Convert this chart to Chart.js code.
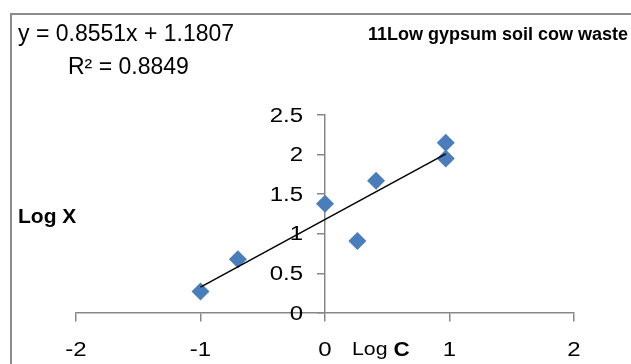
<!DOCTYPE html>
<html>
<head>
<meta charset="utf-8">
<script src="https://cdn.jsdelivr.net/npm/chart.js@4.4.0/dist/chart.umd.min.js"></script>
<style>
  html, body { margin: 0; padding: 0; background: #ffffff; }
  #wrap { width: 631px; height: 364px; position: relative; }
</style>
</head>
<body>
<div id="wrap"><canvas id="logChart" width="631" height="364"></canvas></div>
<script>
// Log C / Log X values
const logC = [-1.0, -0.70, 0.0, 0.26, 0.41, 0.97, 0.97];
const logX = [0.27, 0.68, 1.38, 0.91, 1.67, 2.15, 1.95];

// Linear trendline reported on the chart
const slope = 0.8551;
const intercept = 1.1807;
const rSquared = 0.8849;

const xTicks = [-2, -1, 0, 1, 2];
const yTicks = [0, 0.5, 1, 1.5, 2, 2.5];

const chartTitle = '11Low gypsum soil cow waste';

const colors = {
    marker: '#4a7ebb',
    axis: '#878787',
    text: '#000000',
    frame: '#8c8c8c'
};

const FONT = "'Liberation Sans', Arial, sans-serif";
const TICK_FONT = '20px ' + FONT;
const TICK_STRETCH = 1.2;

// Trendline endpoints at the first and last Log C value
const xMin = Math.min(...logC);
const xMax = Math.max(...logC);
const trendData = [xMin, xMax].map(x => ({ x: x, y: slope * x + intercept }));

const points = logC.map((c, i) => ({ x: c, y: logX[i] }));

// text with a horizontal stretch, anchored at (x, y)
function drawText(ctx, text, x, y, font, align, sx) {
    ctx.save();
    ctx.font = font;
    ctx.textAlign = align;
    ctx.textBaseline = 'middle';
    ctx.translate(x, y);
    ctx.scale(sx || 1, 1);
    ctx.fillText(text, 0, 0);
    ctx.restore();
}

// Texts drawn straight onto the canvas (frame, equation, titles, tick labels)
const annotations = {
    id: 'annotations',
    afterDraw(chart) {
        const ctx = chart.ctx;
        const xs = chart.scales.x;
        const ys = chart.scales.y;
        ctx.save();

        // outer frame
        ctx.strokeStyle = colors.frame;
        ctx.lineWidth = 2;
        ctx.strokeRect(11, 14, 700, 400);
        ctx.fillStyle = colors.text;

        // y tick labels left of the tick marks (axis crosses at x = 0)
        const yLabelRight = xs.getPixelForValue(0) - 22;
        yTicks.forEach(v => {
            drawText(ctx, String(v), yLabelRight, ys.getPixelForValue(v) + 1, TICK_FONT, 'right', TICK_STRETCH);
        });

        // x tick labels under the axis line
        const xLabelY = ys.getPixelForValue(0) + 37;
        xTicks.forEach(v => {
            drawText(ctx, String(v), xs.getPixelForValue(v), xLabelY, TICK_FONT, 'center', TICK_STRETCH);
        });

        // equation + R²
        drawText(ctx, 'y = ' + slope + 'x + ' + intercept, 18, 35, '23px ' + FONT, 'left');
        drawText(ctx, 'R² = ' + rSquared, 68, 68, '23px ' + FONT, 'left');

        // chart title
        drawText(ctx, chartTitle, 628, 35, 'bold 18px ' + FONT, 'right');

        // y axis title
        drawText(ctx, 'Log X', 18, 217, 'bold 20px ' + FONT, 'left', 1.05);

        // x axis title: "Log " regular, "C" bold
        ctx.font = '19px ' + FONT;
        const logW = ctx.measureText('Log ').width * 1.12;
        drawText(ctx, 'Log ', 352, xLabelY, '19px ' + FONT, 'left', 1.12);
        drawText(ctx, 'C', 352 + logW, xLabelY, 'bold 20px ' + FONT, 'left', 1.12);

        ctx.restore();
    }
};

new Chart(document.getElementById('logChart'), {
    type: 'scatter',
    data: {
        datasets: [{
            label: 'Log X',
            data: points,
            pointStyle: 'rectRot',
            pointRadius: 9,
            pointHoverRadius: 9,
            backgroundColor: colors.marker,
            borderColor: colors.marker,
            borderWidth: 0,
            clip: false,
            order: 2
        }, {
            type: 'line',
            label: 'Linear',
            data: trendData,
            borderColor: '#000000',
            borderWidth: 1.5,
            pointRadius: 0,
            fill: false,
            clip: false,
            order: 1
        }]
    },
    options: {
        responsive: false,
        animation: false,
        layout: {
            padding: { left: 76, right: 57, top: 115, bottom: 51 }
        },
        plugins: {
            legend: { display: false },
            tooltip: { enabled: false }
        },
        scales: {
            x: {
                type: 'linear',
                min: xTicks[0],
                max: xTicks[xTicks.length - 1],
                position: { y: 0 },
                afterBuildTicks: axis => { axis.ticks = xTicks.map(v => ({ value: v })); },
                border: { color: colors.axis, width: 1.5 },
                grid: {
                    drawOnChartArea: false,
                    drawTicks: true,
                    tickLength: 8,
                    tickColor: colors.axis,
                    lineWidth: 1.5
                },
                // labels drawn by the annotations plugin
                ticks: { display: false }
            },
            y: {
                type: 'linear',
                min: yTicks[0],
                max: yTicks[yTicks.length - 1],
                position: { x: 0 },
                afterBuildTicks: axis => { axis.ticks = yTicks.map(v => ({ value: v })); },
                border: { color: colors.axis, width: 1.5 },
                grid: {
                    drawOnChartArea: false,
                    drawTicks: true,
                    tickLength: 7,
                    tickColor: colors.axis,
                    lineWidth: 1.5
                },
                ticks: { display: false }
            }
        }
    },
    plugins: [annotations]
});
</script>
</body>
</html>
